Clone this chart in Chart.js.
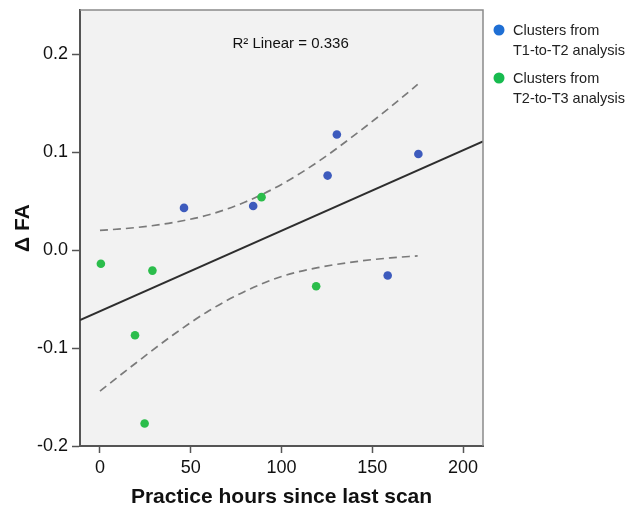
<!DOCTYPE html>
<html>
<head>
<meta charset="utf-8">
<script src="https://cdn.jsdelivr.net/npm/chart.js@4.4.1/dist/chart.umd.min.js"></script>
<style>
  html, body { margin: 0; padding: 0; background: #fff; }
</style>
</head>
<body>
<canvas id="chart" width="632" height="505"></canvas>
<script>
// values
var blueHours = [46.3, 84.4, 125.4, 130.5, 158.5, 175.4];
var blueFA = [0.043, 0.045, 0.076, 0.118, -0.026, 0.098];
var greenHours = [0.5, 19.3, 24.6, 28.9, 89, 119.1];
var greenFA = [-0.014, -0.087, -0.177, -0.021, 0.054, -0.037];

var fitHours = [-11, 211];
var fitFA = [-0.0714, 0.111];

var bandHours = [0, 20, 40, 60, 80, 100, 120, 140, 160, 175];
var bandUpper = [0.020, 0.023, 0.028, 0.036, 0.049, 0.067, 0.090, 0.117, 0.146, 0.169];
var bandLower = [-0.144, -0.115, -0.087, -0.062, -0.042, -0.027, -0.018, -0.012, -0.008, -0.006];

var xTicks = [0, 50, 100, 150, 200];
var yTicks = [-0.2, -0.1, 0.0, 0.1, 0.2];

var legendLabels = [['Clusters from', 'T1-to-T2 analysis'], ['Clusters from', 'T2-to-T3 analysis']];
var legendColors = ['#1f6fd4', '#17bb4f'];
var fitLabel = 'R\u00b2 Linear = 0.336';

function pairs(xs, ys) {
    return xs.map(function (x, i) { return { x: x, y: ys[i] }; });
}

var FONT = "'Liberation Sans', Arial, sans-serif";

var framePlugin = {
    id: 'frame',
    beforeDraw: function (chart) {
        var a = chart.chartArea, ctx = chart.ctx;
        ctx.save();
        ctx.fillStyle = '#f2f2f2';
        ctx.fillRect(a.left, a.top, a.right - a.left, a.bottom - a.top);
        ctx.restore();
    },
    afterDraw: function (chart) {
        var a = chart.chartArea, ctx = chart.ctx;
        ctx.save();
        ctx.strokeStyle = '#8a8a8a';
        ctx.lineWidth = 1.5;
        ctx.beginPath();
        ctx.moveTo(a.left, a.top);
        ctx.lineTo(a.right, a.top);
        ctx.lineTo(a.right, a.bottom);
        ctx.stroke();

        // R squared label
        var xs = chart.scales.x, ys = chart.scales.y;
        ctx.fillStyle = '#111';
        ctx.font = '15px ' + FONT;
        ctx.textAlign = 'center';
        ctx.textBaseline = 'middle';
        ctx.fillText(fitLabel, xs.getPixelForValue(105), ys.getPixelForValue(0.21));

        // legend
        ctx.font = '14.5px ' + FONT;
        ctx.textAlign = 'left';
        for (var i = 0; i < legendLabels.length; i++) {
            var y0 = 31 + i * 48;
            ctx.fillStyle = legendColors[i];
            ctx.beginPath();
            ctx.arc(499, y0 - 1, 5.5, 0, Math.PI * 2);
            ctx.fill();
            ctx.fillStyle = '#222';
            for (var j = 0; j < legendLabels[i].length; j++) {
                ctx.fillText(legendLabels[i][j], 513, y0 + j * 19.5);
            }
        }
        ctx.restore();
    }
};

new Chart(document.getElementById('chart'), {
    type: 'scatter',
    data: {
        datasets: [{
            data: pairs(blueHours, blueFA),
            backgroundColor: '#3d5bbd',
            borderWidth: 0,
            pointRadius: 4.3
        }, {
            data: pairs(greenHours, greenFA),
            backgroundColor: '#2bbd4b',
            borderWidth: 0,
            pointRadius: 4.3
        }, {
            data: pairs(fitHours, fitFA),
            showLine: true,
            borderColor: '#2e2e2e',
            borderWidth: 2,
            pointRadius: 0
        }, {
            data: pairs(bandHours, bandUpper),
            showLine: true,
            borderColor: '#7a7a7a',
            borderWidth: 1.7,
            borderDash: [8, 5],
            cubicInterpolationMode: 'monotone',
            pointRadius: 0
        }, {
            data: pairs(bandHours, bandLower),
            showLine: true,
            borderColor: '#7a7a7a',
            borderWidth: 1.7,
            borderDash: [8, 5],
            cubicInterpolationMode: 'monotone',
            pointRadius: 0
        }]
    },
    options: {
        responsive: false,
        animation: false,
        layout: { padding: { left: 0, right: 149, top: 10, bottom: 0 } },
        plugins: {
            legend: { display: false },
            tooltip: { enabled: false }
        },
        scales: {
            x: {
                min: -11,
                max: 211,
                afterBuildTicks: function (scale) {
                    scale.ticks = xTicks.map(function (v) { return { value: v }; });
                },
                afterFit: function (scale) { scale.height = 59; },
                grid: { drawOnChartArea: false, tickLength: 7, tickColor: '#555', tickWidth: 1.5 },
                border: { color: '#555', width: 2 },
                ticks: { color: '#111', font: { family: FONT, size: 18 }, padding: 4, maxRotation: 0 },
                title: {
                    display: true,
                    text: 'Practice hours since last scan',
                    color: '#111',
                    font: { family: FONT, size: 21, weight: 'bold', lineHeight: 0.75 },
                    padding: 0
                }
            },
            y: {
                min: -0.2,
                max: 0.245,
                afterBuildTicks: function (scale) {
                    scale.ticks = yTicks.map(function (v) { return { value: v }; });
                },
                afterFit: function (scale) {
                    scale.width = 80;
                    scale.paddingTop = 0;
                    scale.paddingBottom = 0;
                },
                grid: { drawOnChartArea: false, tickLength: 8, tickColor: '#555', tickWidth: 1.5 },
                border: { color: '#555', width: 2 },
                ticks: {
                    color: '#111',
                    font: { family: FONT, size: 18 },
                    padding: 4,
                    callback: function (v) { return v.toFixed(1); }
                },
                title: {
                    display: true,
                    text: '\u0394 FA',
                    color: '#111',
                    font: { family: FONT, size: 21, weight: 'bold', lineHeight: 1 },
                    padding: { top: 13, bottom: 0 }
                }
            }
        }
    },
    plugins: [framePlugin]
});
</script>
</body>
</html>
